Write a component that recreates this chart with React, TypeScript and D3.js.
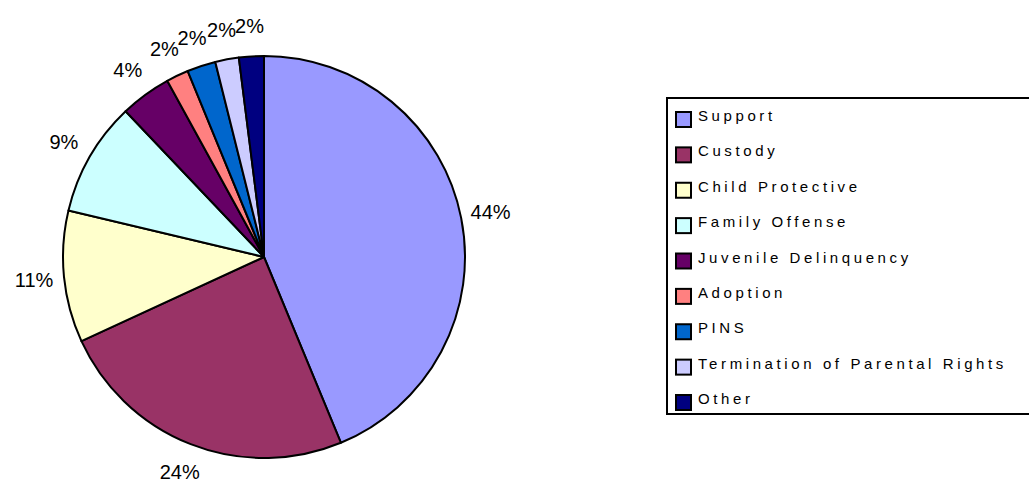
import * as d3 from "d3";
import React, { useEffect, useRef } from "react";

const categories = [
    "Support",
    "Custody",
    "Child Protective",
    "Family Offense",
    "Juvenile Delinquency",
    "Adoption",
    "PINS",
    "Termination of Parental Rights",
    "Other",
];
const shares = [43.8, 24.4, 10.6, 9.2, 4.1, 1.8, 2.3, 1.9, 2.0];
const colors = ["#9999FF", "#993366", "#FFFFCC", "#CCFFFF", "#660066", "#FF8080", "#0066CC", "#CCCCFF", "#000080"];

const width = 1029;
const height = 485;
const cx = 264;
const cy = 257;
const radius = 201;

const App: React.FC = () => {
    const wrapper = useRef<SVGSVGElement>(null);

    useEffect(() => {
        if (!wrapper.current) return;
        const svg = d3.select(wrapper.current);
        svg.selectAll("*").remove();

        const data = categories.map((name, i) => ({ name, value: shares[i], color: colors[i] }));
        const total = d3.sum(shares);
        const pie = d3.pie<typeof data[0]>().value((d) => d.value).sort(null);
        const arcs = pie(data);
        const arc = d3.arc<d3.PieArcDatum<typeof data[0]>>().innerRadius(0).outerRadius(radius);

        const graph = svg.append("g").attr("transform", `translate(${cx}, ${cy})`);

        graph
            .selectAll("path")
            .data(arcs)
            .join("path")
            .attr("d", arc)
            .attr("fill", (d) => d.data.color)
            .attr("stroke", "#000")
            .attr("stroke-width", 2)
            .attr("stroke-linejoin", "round");

        const labelR = 231;
        graph
            .selectAll("text")
            .data(arcs)
            .join("text")
            .attr("x", (d) => Math.sin((d.startAngle + d.endAngle) / 2) * labelR)
            .attr("y", (d) => -Math.cos((d.startAngle + d.endAngle) / 2) * labelR)
            .attr("dy", "0.35em")
            .attr("text-anchor", "middle")
            .style("font-family", "'Liberation Sans', Arial, sans-serif")
            .style("font-size", "20px")
            .text((d) => `${Math.round((d.data.value / total) * 100)}%`);

        // legend
        const legend = svg.append("g").attr("transform", "translate(667, 98)");
        legend
            .append("rect")
            .attr("width", 400)
            .attr("height", 316)
            .attr("fill", "#fff")
            .attr("stroke", "#000")
            .attr("stroke-width", 2);

        const row = d3.scaleLinear().domain([0, categories.length - 1]).range([14, 297]);

        const item = legend
            .selectAll("g.item")
            .data(data)
            .join("g")
            .attr("class", "item")
            .attr("transform", (_, i) => `translate(9, ${row(i)})`);

        item
            .append("rect")
            .attr("width", 15)
            .attr("height", 15)
            .attr("fill", (d) => d.color)
            .attr("stroke", "#000")
            .attr("stroke-width", 2);

        item
            .append("text")
            .attr("x", 22)
            .attr("y", 9)
            .style("font-family", "'Liberation Sans', Arial, sans-serif")
            .style("font-size", "15px")
            .style("letter-spacing", "3.6px")
            .text((d) => d.name);
    }, []);

    return (
        <svg
            ref={wrapper}
            width={width}
            height={height}
            style={{ position: "absolute", left: 0, top: 0, background: "#fff" }}
        />
    );
};

export default App;
